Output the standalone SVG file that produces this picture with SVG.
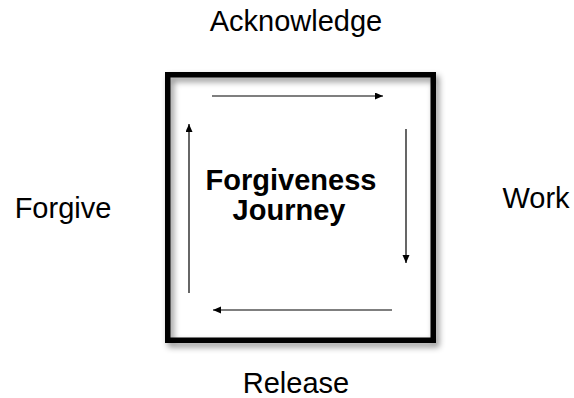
<svg xmlns="http://www.w3.org/2000/svg" width="574" height="398" viewBox="0 0 574 398">
  <style>
    .lbl { font-family: "Liberation Sans", Arial, Helvetica, sans-serif; font-size: 29px; fill: #000; text-anchor: middle; }
    .title { font-weight: bold; }
    .arr { stroke: #000; stroke-width: 1.2; fill: none; marker-end: url(#ah); }
  </style>
  <defs>
    <marker id="ah" markerUnits="userSpaceOnUse" markerWidth="9" markerHeight="8" refX="8" refY="3.5" orient="auto">
      <path d="M0,0 L8,3.5 L0,7 z" fill="#000"/>
    </marker>
    <filter id="sh" x="-10%" y="-10%" width="125%" height="125%">
      <feDropShadow dx="3" dy="4" stdDeviation="3" flood-color="#000" flood-opacity="0.45"/>
    </filter>
  </defs>
  <rect width="574" height="398" fill="#fff"/>
  <g id="journey">
    <rect x="167.75" y="74.75" width="265.5" height="265.5" fill="none" stroke="#000" stroke-width="5.5" filter="url(#sh)"/>
    <text class="lbl title" x="291" y="190">Forgiveness</text>
    <text class="lbl title" x="289" y="220">Journey</text>
  </g>
  <g id="acknowledge"><text class="lbl" x="296" y="31">Acknowledge</text></g>
  <g id="work"><text class="lbl" x="536" y="208">Work</text></g>
  <g id="release"><text class="lbl" x="296" y="393">Release</text></g>
  <g id="forgive"><text class="lbl" x="63" y="218">Forgive</text></g>
  <g id="connectors">
    <line class="arr" x1="212" y1="96" x2="383" y2="96"/>
    <line class="arr" x1="406" y1="129" x2="406" y2="263"/>
    <line class="arr" x1="392" y1="310" x2="213" y2="310"/>
    <line class="arr" x1="189" y1="293" x2="189" y2="124"/>
  </g>
</svg>
